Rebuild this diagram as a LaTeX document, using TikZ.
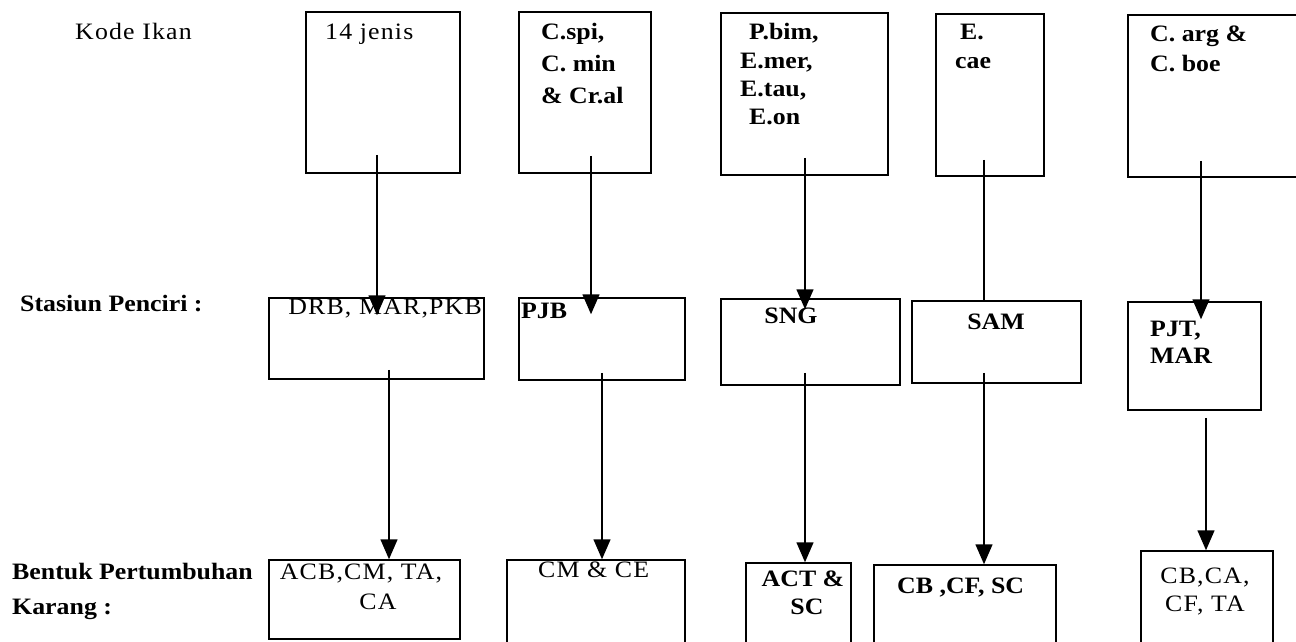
\documentclass[tikz,border=0pt]{standalone}
\usepackage{fontspec}
\setmainfont{Liberation Serif}[FakeStretch=1.1]
\usetikzlibrary{arrows.meta}
\begin{document}
\begin{tikzpicture}[x=1pt,y=-1pt,
  box/.style={draw, line width=1.5pt, inner sep=0pt},
  lbl/.style={font=\fontsize{23.5}{28}\selectfont\addfontfeature{LetterSpace=5}, inner sep=0pt},
  bf/.style={inner sep=0pt, font=\fontsize{23.5}{28}\selectfont\bfseries},
  conn/.style={line width=1.5pt},
  arr/.style={conn, -{Triangle[width=17pt,length=20pt]}}]
\useasboundingbox (0,0) rectangle (1296,642);
\clip (0,0) rectangle (1296,642);
% top row boxes
\node[box, minimum width=154pt, minimum height=161pt] (B1) at (383,92.5) {};
\node[box, minimum width=132pt, minimum height=161pt] (B2) at (585,92.5) {};
\node[box, minimum width=167pt, minimum height=162pt] (B3) at (804.5,94) {};
\node[box, minimum width=108pt, minimum height=162pt] (B4) at (990,95) {};
\node[box, minimum width=182pt, minimum height=162pt] (B5) at (1219,96) {};
% middle row boxes
\node[box, minimum width=215pt, minimum height=81pt] (M1) at (376.5,338.5) {};
\node[box, minimum width=166pt, minimum height=82pt] (M2) at (602,339) {};
\node[box, minimum width=179pt, minimum height=86pt] (M3) at (810.5,342) {};
\node[box, minimum width=169pt, minimum height=82pt] (M4) at (996.5,342) {};
\node[box, minimum width=133pt, minimum height=108pt] (M5) at (1194.5,356) {};
% bottom row boxes
\node[box, minimum width=191pt, minimum height=79pt] (C1) at (364.5,599.5) {};
\node[box, minimum width=178pt, minimum height=110pt] (C2) at (596,615) {};
\node[box, minimum width=105pt, minimum height=107pt] (C3) at (798.5,616.5) {};
\node[box, minimum width=182pt, minimum height=105pt] (C4) at (965,617.5) {};
\node[box, minimum width=132pt, minimum height=119pt] (C5) at (1207,610.5) {};
\begin{scope}[yshift=-4pt]
% row labels
\node[lbl, anchor=mid west] (kode) at (75,33) {Kode Ikan};
\node[bf, anchor=mid west] (stas) at (20,305) {Stasiun Penciri :};
\node[bf, anchor=mid west] (bentA) at (12,573) {Bentuk Pertumbuhan};
\node[bf, anchor=mid west] (bentB) at (12,608) {Karang :};
% top texts
\node[lbl, anchor=mid west] (t1) at (325,33) {14 jenis};
\node[bf, anchor=mid west] (t2a) at (541,33) {C.spi,};
\node[bf, anchor=mid west] (t2b) at (541,65) {C. min};
\node[bf, anchor=mid west] (t2c) at (541,97) {\& Cr.al};
\node[bf, anchor=mid west] (t3a) at (749,33) {P.bim,};
\node[bf, anchor=mid west] (t3b) at (740,62) {E.mer,};
\node[bf, anchor=mid west] (t3c) at (740,90) {E.tau,};
\node[bf, anchor=mid west] (t3d) at (749,118) {E.on};
\node[bf, anchor=mid west] (t4a) at (960,33) {E.};
\node[bf, anchor=mid west] (t4b) at (955,62) {cae};
\node[bf, anchor=mid west] (t5a) at (1150,35) {C. arg \&};
\node[bf, anchor=mid west] (t5b) at (1150,65) {C. boe};
% middle texts
\node[lbl, anchor=mid east] (m1) at (482,308) {DRB, MAR,PKB};
\node[bf, anchor=mid west] (m2) at (521,312) {PJB};
\node[bf, anchor=mid] (m3) at (791,317) {SNG};
\node[bf, anchor=mid] (m4) at (996,323) {SAM};
\node[bf, anchor=mid west] (m5a) at (1150,330) {PJT,};
\node[bf, anchor=mid west] (m5b) at (1150,357) {MAR};
% bottom texts
\node[lbl, anchor=mid] (c1a) at (361,573) {ACB,CM, TA,};
\node[lbl, anchor=mid] (c1b) at (378,603) {CA};
\node[lbl, anchor=mid west] (c2) at (538,571) {CM \& CE};
\node[bf, anchor=mid] (c3a) at (803,580) {ACT \&};
\node[bf, anchor=mid] (c3b) at (807,608) {SC};
\node[bf, anchor=mid west] (c4) at (897,587) {CB ,CF, SC};
\node[lbl, anchor=mid] (c5a) at (1205,577) {CB,CA,};
\node[lbl, anchor=mid] (c5b) at (1205,605) {CF, TA};
\end{scope}
% connectors top -> middle
\draw[arr] ([xshift=-6pt,yshift=19pt]B1.south) -- ([xshift=0.5pt,yshift=-18pt]M1.north);
\draw[arr] ([xshift=6pt,yshift=18pt]B2.south) -- ([xshift=-11pt,yshift=-17pt]M2.north);
\draw[arr] ([xshift=0.5pt,yshift=18pt]B3.south) -- ([xshift=-5.5pt,yshift=-11pt]M3.north);
\draw[conn] ([xshift=-6pt,yshift=17pt]B4.south) -- ([xshift=-12.5pt]M4.north);
\draw[arr] ([xshift=-18pt,yshift=17pt]B5.south) -- ([xshift=6.5pt,yshift=-18pt]M5.north);
% connectors middle -> bottom
\draw[arr] ([xshift=12.5pt,yshift=10pt]M1.south) -- ([xshift=24.5pt]C1.north);
\draw[arr] ([yshift=8pt]M2.south) -- ([xshift=6pt]C2.north);
\draw[arr] ([xshift=-5.5pt,yshift=13pt]M3.south) -- ([xshift=6.5pt]C3.north);
\draw[arr] ([xshift=-12.5pt,yshift=11pt]M4.south) -- ([xshift=19pt]C4.north);
\draw[arr] ([xshift=11.5pt,yshift=-7pt]M5.south) -- ([xshift=-1pt]C5.north);
\end{tikzpicture}
\end{document}
